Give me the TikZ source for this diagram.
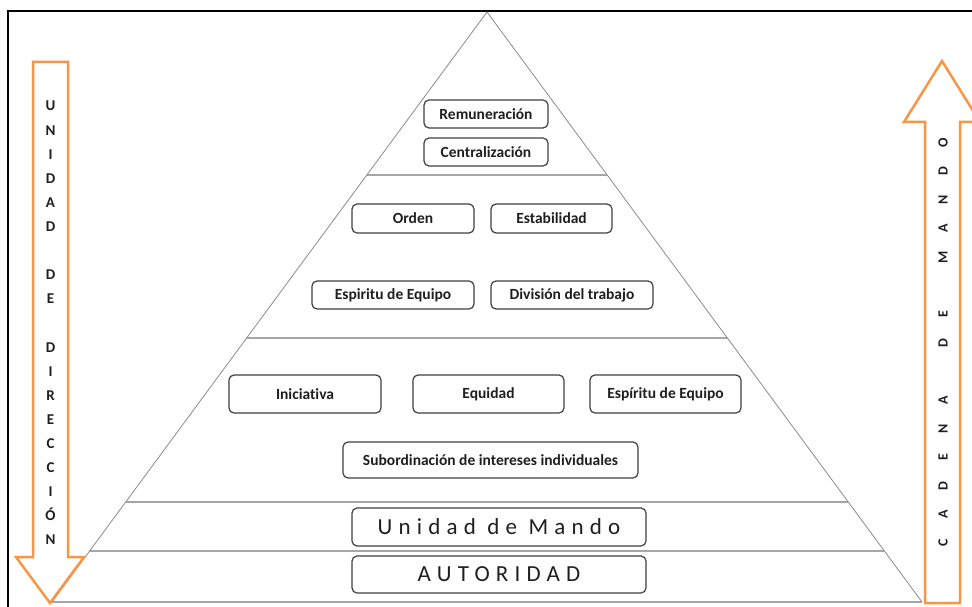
\documentclass[tikz,border=0pt]{standalone}
\usepackage{fontspec}
\setmainfont{Carlito}[Ligatures=NoCommon]
\newfontfamily\spacedfont[LetterSpace=27,Ligatures=NoCommon]{Carlito}
\usetikzlibrary{calc}
\definecolor{arroworange}{HTML}{F79646}
\definecolor{tiergray}{HTML}{A6A6A6}
\definecolor{sidegray}{HTML}{8C8C8C}
\definecolor{boxedge}{HTML}{404040}
\definecolor{boxtext}{HTML}{1F1F1F}
\begin{document}
\begin{tikzpicture}[x=1pt,y=-1pt,
  cell/.style={draw=boxedge, line width=1.2pt, rounded corners=5pt, fill=white,
    inner sep=0pt, text=boxtext, font=\fontsize{15.5}{18}\selectfont\bfseries},
  wide/.style={cell, font=\spacedfont\fontsize{23}{26}\selectfont},
  tier/.style={draw=tiergray, line width=1.8pt},
  side/.style={draw=sidegray, line width=0.8pt},
  bigarrow/.style={draw=arroworange, line width=2.5pt, fill=white, line join=miter},
  vletter/.style={font=\fontsize{15}{17}\selectfont\bfseries, text=boxtext,
    inner sep=0pt, text height=10pt, text depth=0pt},
  hletter/.style={vletter, rotate=90, font=\fontsize{14}{16}\selectfont\bfseries}
]
\useasboundingbox (0,0) rectangle (972,607);
\clip (0,0) rectangle (972,607);
\fill[white] (0,0) rectangle (972,607);

% frame
\draw[black, line width=1.3pt] (8,607) -- (8,11) -- (972,11);

% pyramid
\coordinate (apex) at (487,12);
\coordinate (bl) at (52,602);
\coordinate (br) at (922,602);
\foreach \t in {0.2763,0.5525,0.8305,0.9136}
  \draw[tier] ($(apex)!\t!(bl)$) -- ($(apex)!\t!(br)$);
\draw[tier] (bl) -- (br);
\draw[side] (bl) -- (apex) -- (br);

% arrows
\draw[bigarrow] (33,62) -- (68,62) -- (68,557) -- (84,557) -- (50,603)
  -- (16,557) -- (33,557) -- cycle;
\draw[bigarrow] (925,603) -- (960,603) -- (960,122) -- (980,122) -- (942,61)
  -- (904,122) -- (925,122) -- cycle;

\foreach \c/\k in {U/0,N/1,I/2,D/3,A/4,D/5,D/7,E/8,D/10,I/11,R/12,E/13,C/14,C/15,I/16,Ó/17,N/18}
  \node[vletter] (ud\k) at (50.5,{106+\k*24.1}) {\c};
\foreach \c/\k in {C/0,A/1,D/2,E/3,N/4,A/5,D/7,E/8,M/10,A/11,N/12,D/13,O/14}
  \node[hletter] (cm\k) at (942.5,{543-\k*28.6}) {\c};

% boxes
\node[cell, minimum width=124pt, minimum height=28pt] (remu) at (486,114) {Remuneración};
\node[cell, minimum width=124pt, minimum height=28pt] (cent) at (486,152) {Centralización};
\node[cell, minimum width=122pt, minimum height=29pt] (orden) at (413,218.5) {Orden};
\node[cell, minimum width=121pt, minimum height=29pt] (estab) at (551.5,218.5) {Estabilidad};
\node[cell, minimum width=162pt, minimum height=28pt] (espa) at (393,295) {Espiritu de Equipo};
\node[cell, minimum width=162pt, minimum height=28pt] (divi) at (572,295) {División del trabajo};
\node[cell, minimum width=152pt, minimum height=38pt] (inic) at (305,394) {Iniciativa};
\node[cell, minimum width=151pt, minimum height=38pt] (equi) at (488.5,394) {Equidad};
\node[cell, minimum width=151pt, minimum height=38pt] (espb) at (665.5,394) {Espíritu de Equipo};
\node[cell, minimum width=295pt, minimum height=36pt] (subo) at (490.5,460) {Subordinación de intereses individuales};
\node[wide, minimum width=294pt, minimum height=38pt] (unid) at (499,527) {Unidad de Mando};
\node[wide, minimum width=294pt, minimum height=37pt] (auto) at (499,574.5) {AUTORIDAD};
\end{tikzpicture}
\end{document}
